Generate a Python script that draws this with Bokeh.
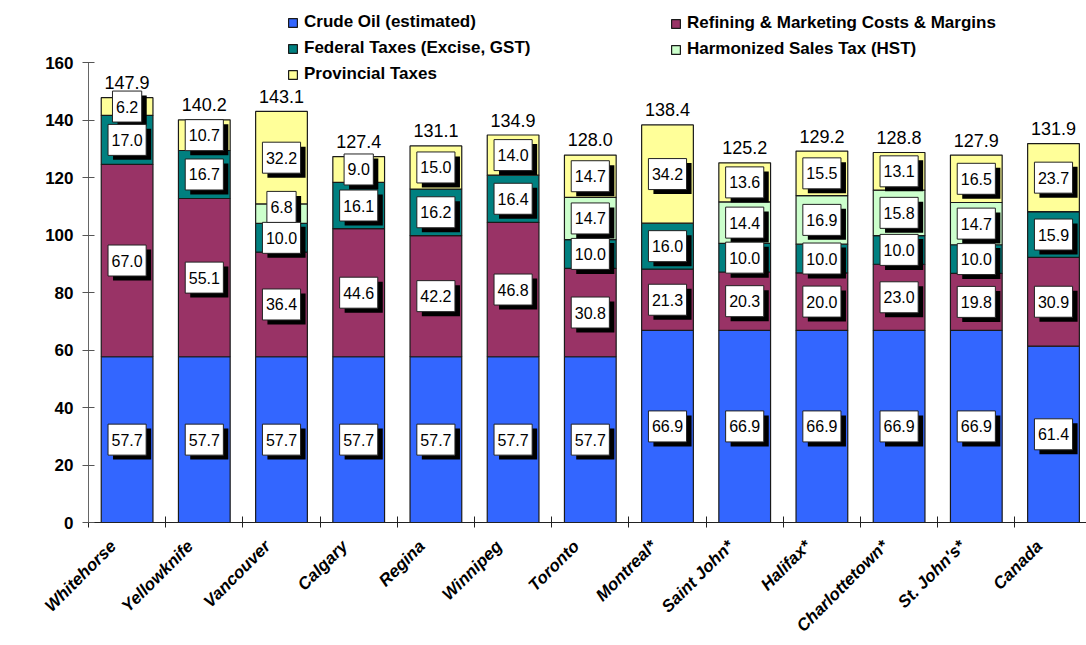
import math
from bokeh.plotting import figure
from bokeh.models import (ColumnDataSource, FixedTicker, Legend, LegendItem,
                          Label, Range1d)
from bokeh.core.properties import value
from bokeh.embed import file_html
from bokeh.resources import INLINE

# ---------------- data ----------------
cities = ["Whitehorse", "Yellowknife", "Vancouver", "Calgary", "Regina",
          "Winnipeg", "Toronto", "Montreal*", "Saint John*", "Halifax*",
          "Charlottetown*", "St. John's*", "Canada"]
crude = [57.7, 57.7, 57.7, 57.7, 57.7, 57.7, 57.7, 66.9, 66.9, 66.9, 66.9, 66.9, 61.4]
refining = [67.0, 55.1, 36.4, 44.6, 42.2, 46.8, 30.8, 21.3, 20.3, 20.0, 23.0, 19.8, 30.9]
federal = [17.0, 16.7, 10.0, 16.1, 16.2, 16.4, 10.0, 16.0, 10.0, 10.0, 10.0, 10.0, 15.9]
hst = [0.0, 0.0, 6.8, 0.0, 0.0, 0.0, 14.7, 0.0, 14.4, 16.9, 15.8, 14.7, 0.0]
provincial = [6.2, 10.7, 32.2, 9.0, 15.0, 14.0, 14.7, 34.2, 13.6, 15.5, 13.1, 16.5, 23.7]
totals = [147.9, 140.2, 143.1, 127.4, 131.1, 134.9, 128.0, 138.4, 125.2, 129.2, 128.8, 127.9, 131.9]
y_ticks = [0, 20, 40, 60, 80, 100, 120, 140, 160]

series_names = ["Crude Oil (estimated)", "Refining & Marketing Costs & Margins",
                "Federal Taxes (Excise, GST)", "Harmonized Sales Tax (HST)",
                "Provincial Taxes"]
series_keys = ["crude", "refining", "federal", "hst", "provincial"]
colors = ["#3366FF", "#993366", "#008080", "#CCFFCC", "#FFFF99"]

# ---------------- layout ----------------
W, H = 1086, 645
LEFT, BOTTOM = 88, 122
FRAME_H = H - BOTTOM
PX_X = 77.2      # pixels per category
PX_Y = 2.878     # pixels per cent
FONT = "Liberation Sans"
LABEL_SHIFT = 0.18   # category labels sit slightly left of the bar centre

x_pos = list(range(1, len(cities) + 1))
x_end = 0.5 + (W - LEFT) / PX_X
y_end = FRAME_H / PX_Y

p = figure(width=W, height=H, x_range=Range1d(0.5, x_end), y_range=Range1d(0, y_end),
           output_backend="svg", toolbar_location=None,
           min_border_left=LEFT, min_border_right=0, min_border_top=0,
           min_border_bottom=BOTTOM)
p.outline_line_color = None
p.xgrid.visible = False
p.ygrid.visible = False
p.background_fill_color = "white"

source = ColumnDataSource(dict(x=x_pos, crude=crude, refining=refining,
                               federal=federal, hst=hst, provincial=provincial))
rs = p.vbar_stack(series_keys, x="x", width=0.67, fill_color=colors,
                  line_color="#1a1a1a", line_width=1.2, source=source)

# ---------------- value boxes ----------------
series = [crude, refining, federal, hst, provincial]
MIN_SEP = 31 / PX_Y
lx, ly, lt, lw = [], [], [], []
for i, xv in enumerate(x_pos):
    base = 0.0
    prev = None
    for s in series:
        v = s[i]
        if v <= 0:
            continue
        c = base + v / 2
        if prev is not None and c < prev + MIN_SEP:
            c = prev + MIN_SEP
        txt = f"{v:.1f}"
        lx.append(xv)
        ly.append(c)
        lt.append(txt)
        lw.append(16 * sum(0.278 if ch == "." else 0.556 for ch in txt) + 7)
        prev = c
        base += v

lab_src = ColumnDataSource(dict(x=lx, y=ly, t=lt, w=lw,
                                sx=[x + 5 / PX_X for x in lx],
                                sy=[y - 4.5 / PX_Y for y in ly]))
p.rect(x="sx", y="sy", width="w", height=31, width_units="screen", height_units="screen",
       fill_color="black", line_color=None, source=lab_src)
p.rect(x="x", y="y", width="w", height=31, width_units="screen", height_units="screen",
       fill_color="white", line_color="#222222", line_width=1, source=lab_src)
p.text(x="x", y="y", text="t", text_align="center", text_baseline="middle",
       text_font=value(FONT), text_font_size="16px", text_color="black", source=lab_src)

# totals above bars
p.text(x=x_pos, y=totals, text=[f"{t:.1f}" for t in totals], y_offset=-15,
       text_align="center", text_baseline="alphabetic",
       text_font=value(FONT), text_font_size="18px", text_color="black")

# ---------------- axes ----------------
label_ticks = [x - LABEL_SHIFT for x in x_pos]
xa = p.xaxis[0]
xa.ticker = FixedTicker(ticks=label_ticks,
                        minor_ticks=[x - 0.5 for x in x_pos] + [x_pos[-1] + 0.5])
xa.major_label_overrides = {t: c for t, c in zip(label_ticks, cities)}
xa.major_tick_line_color = None
xa.major_tick_out = 5
xa.major_tick_in = 0
xa.minor_tick_line_color = "#222222"
xa.minor_tick_in = 6
xa.minor_tick_out = 5
xa.major_label_orientation = math.pi / 4
xa.major_label_text_font = FONT
xa.major_label_text_font_size = "17px"
xa.major_label_text_font_style = "bold italic"
xa.major_label_text_color = "black"
xa.major_label_standoff = 16
xa.axis_line_color = "#222222"

ya = p.yaxis[0]
ya.ticker = FixedTicker(ticks=y_ticks)
ya.bounds = (0, 160)
ya.major_tick_in = 6
ya.major_tick_out = 6
ya.major_tick_line_color = "#555555"
ya.minor_tick_line_color = None
ya.axis_line_color = "#666666"
ya.major_label_text_font = FONT
ya.major_label_text_font_size = "17px"
ya.major_label_text_font_style = "bold"
ya.major_label_text_color = "black"
ya.major_label_standoff = 9

p.add_layout(Label(x=-68, y=FRAME_H - 292, x_units="screen", y_units="screen",
                   text="Cents / Litre", angle=math.pi / 2, text_align="center",
                   text_baseline="middle", text_font=FONT, text_font_size="19px",
                   text_font_style="bold", text_color="black"))

# ---------------- legends ----------------
def make_legend(idx, vx, bottom_px):
    leg = Legend(items=[LegendItem(label=series_names[k], renderers=[rs[k]]) for k in idx],
                 location=(vx, FRAME_H - bottom_px), orientation="vertical",
                 glyph_width=11, glyph_height=11, label_height=11,
                 label_standoff=6, spacing=6, padding=0, margin=0,
                 border_line_color=None, background_fill_alpha=0,
                 label_text_font=FONT, label_text_font_size="17px",
                 label_text_font_style="bold", label_text_color="black")
    p.add_layout(leg, "center")

make_legend([0, 2, 4], 287 - LEFT, 85)
make_legend([1, 3], 670 - LEFT, 60)

open("out.html", "w").write(file_html(p, INLINE))
